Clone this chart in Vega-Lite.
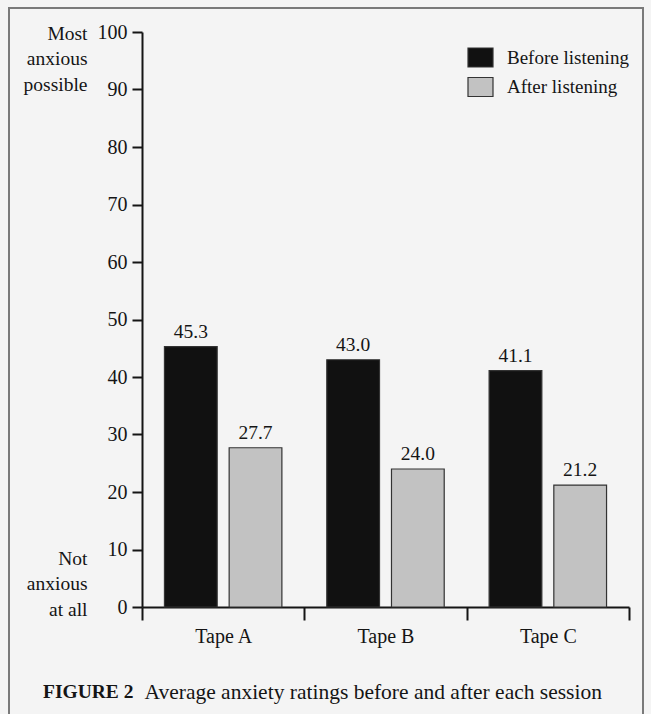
{
  "$schema": "https://vega.github.io/schema/vega-lite/v6.json",
  "autosize": {"type": "none"},
  "width": 634,
  "height": 707,
  "padding": {"left": 9, "top": 8, "right": 8, "bottom": 0},
  "background": "#f4f4f4",
  "config": {
    "view": {"stroke": "#7a7a7a", "strokeWidth": 2},
    "font": "Liberation Serif",
    "axis": {"labelFont": "Liberation Serif", "titleFont": "Liberation Serif", "labelColor": "#151515", "titleColor": "#151515"},
    "legend": {"labelFont": "Liberation Serif"},
    "title": {"font": "Liberation Serif"}
  },
  "data": {
    "values": [
      {"tape": "Tape A", "when": "Before listening", "rating": 45.3},
      {"tape": "Tape A", "when": "After listening", "rating": 27.7},
      {"tape": "Tape B", "when": "Before listening", "rating": 43.0},
      {"tape": "Tape B", "when": "After listening", "rating": 24.0},
      {"tape": "Tape C", "when": "Before listening", "rating": 41.1},
      {"tape": "Tape C", "when": "After listening", "rating": 21.2}
    ]
  },
  "title": {
    "text": "FIGURE 2",
    "orient": "bottom",
    "anchor": "start",
    "frame": "group",
    "fontSize": 19.5,
    "fontWeight": "bold",
    "color": "#151515",
    "dx": 34,
    "dy": -36
  },
  "layer": [
    {
      "mark": {"type": "bar", "stroke": "#333333", "strokeWidth": 1.2},
      "encoding": {
        "x": {
          "field": "tape", "type": "nominal",
          "scale": {"paddingInner": 0, "paddingOuter": 0, "range": [133, 620]},
          "axis": {
            "offset": -108,
            "tickBand": "extent",
            "labelAngle": 0,
            "labelFontSize": 20,
            "labelPadding": 6,
            "tickSize": 13,
            "tickWidth": 2,
            "tickColor": "#151515",
            "domainColor": "#151515",
            "domainWidth": 2,
            "title": "Average anxiety ratings before and after each session",
            "titleFontSize": 21.5,
            "titleFontWeight": "normal",
            "titleAnchor": "start",
            "titleAlign": "left",
            "titleBaseline": "alphabetic",
            "titleX": 135,
            "titleY": 91
          }
        },
        "xOffset": {
          "field": "when", "type": "nominal",
          "sort": ["Before listening", "After listening"],
          "scale": {"paddingInner": 0.185, "paddingOuter": 0.347}
        },
        "y": {
          "field": "rating", "type": "quantitative",
          "scale": {"domain": [0, 100], "range": [599, 24]},
          "axis": {
            "offset": -133,
            "values": [0, 10, 20, 30, 40, 50, 60, 70, 80, 90, 100],
            "grid": false,
            "title": null,
            "labelFontSize": 20,
            "labelPadding": 5,
            "tickSize": 10,
            "tickWidth": 2,
            "tickColor": "#151515",
            "domainColor": "#151515",
            "domainWidth": 2
          }
        },
        "color": {
          "field": "when", "type": "nominal",
          "sort": ["Before listening", "After listening"],
          "scale": {"domain": ["Before listening", "After listening"], "range": ["#111111", "#c2c2c2"]},
          "legend": {
            "orient": "none",
            "legendX": 458,
            "legendY": 36,
            "title": null,
            "symbolType": "M-1,-0.76L1,-0.76L1,0.76L-1,0.76Z",
            "symbolSize": 625,
            "symbolStrokeColor": "#333333",
            "symbolStrokeWidth": 1.2,
            "symbolOpacity": 1,
            "labelFontSize": 19,
            "labelColor": "#151515",
            "labelOffset": 13,
            "rowPadding": 3.5,
            "padding": 0
          }
        }
      }
    },
    {
      "mark": {"type": "text", "baseline": "alphabetic", "dy": -9, "fontSize": 19.5, "color": "#151515"},
      "encoding": {
        "x": {"field": "tape", "type": "nominal", "scale": {"paddingInner": 0, "paddingOuter": 0, "range": [133, 620]}},
        "xOffset": {
          "field": "when", "type": "nominal",
          "sort": ["Before listening", "After listening"],
          "scale": {"paddingInner": 0.185, "paddingOuter": 0.347}
        },
        "y": {
          "field": "rating", "type": "quantitative",
          "scale": {"domain": [0, 100], "range": [599, 24]},
          "axis": {
            "orient": "left",
            "offset": -133,
            "values": [0, 100],
            "domain": false,
            "ticks": false,
            "grid": false,
            "title": null,
            "labelOverlap": false,
            "labelExpr": "datum.value == 100 ? ['Most', 'anxious', 'possible'] : ['Not', 'anxious', 'at all']",
            "labelLineHeight": 25.5,
            "labelFontSize": 19.5,
            "labelAlign": "right",
            "labelPadding": 55,
            "labelBaseline": "middle",
            "labelOffset": {"condition": {"test": "datum.value == 0", "value": -49}, "value": 1}
          }
        },
        "text": {"field": "rating", "type": "quantitative", "format": ".1f"}
      }
    }
  ],
  "resolve": {"scale": {"y": "independent"}, "axis": {"y": "independent"}}
}
